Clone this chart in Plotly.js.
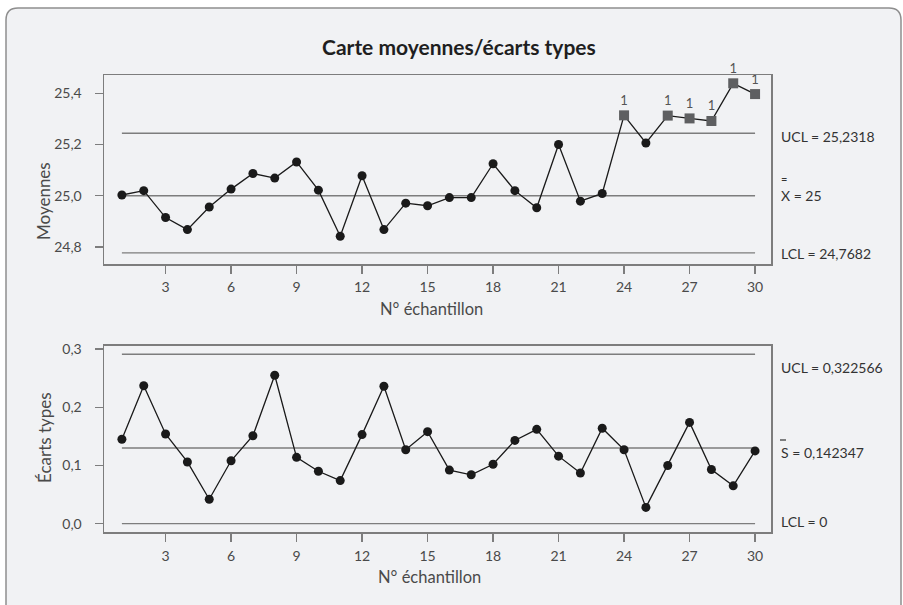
<!DOCTYPE html>
<html>
<head>
<meta charset="utf-8">
<script src="https://cdn.plot.ly/plotly-3.0.1.min.js"></script>
<style>
html,body{margin:0;padding:0;background:#ffffff;}
#chart{width:903px;height:605px;}
</style>
</head>
<body>
<div id="chart"></div>
<script>
// ---- data ----
var samples = [1,2,3,4,5,6,7,8,9,10,11,12,13,14,15,16,17,18,19,20,21,22,23,24,25,26,27,28,29,30];
var means = [25.003,25.020,24.915,24.868,24.956,25.026,25.087,25.069,25.132,25.022,
             24.842,25.078,24.868,24.971,24.961,24.993,24.993,25.125,25.020,24.953,
             25.200,24.979,25.009,25.314,25.206,25.313,25.302,25.292,25.439,25.397];
var stdevs = [0.145,0.237,0.154,0.106,0.042,0.108,0.151,0.255,0.114,0.090,
              0.074,0.153,0.236,0.127,0.158,0.092,0.084,0.102,0.143,0.162,
              0.116,0.087,0.164,0.127,0.028,0.100,0.174,0.093,0.065,0.125];
var flagged = [24,26,27,28,29,30];          // samples failing test 1
var flagText = "1";
var meanLimits = [25.244, 25.0, 24.777];     // UCL, centre, LCL lines as drawn
var sdLimits = [0.291, 0.130, 0.0];
var xTicks = [3,6,9,12,15,18,21,24,27,30];
var meanTicks = [24.8,25.0,25.2,25.4];
var sdTicks = [0.0,0.1,0.2,0.3];
var meanLabels = ["UCL = 25,2318", "X = 25", "LCL = 24,7682"];
var sdLabels = ["UCL = 0,322566", "S = 0,142347", "LCL = 0"];
var titleText = "Carte moyennes/écarts types";
var xTitle = "N° échantillon";
var meanTitle = "Moyennes";
var sdTitle = "Écarts types";

// ---- build ----
var FONT = "Lato, 'Open Sans', sans-serif";
var TXT = '#4a4a4a';
var isFlag = function(s){ return flagged.indexOf(s) >= 0; };
var traces = [];
function limitLines(vals, xa, ya){
  vals.forEach(function(v){
    traces.push({x:[samples[0], samples[samples.length-1]], y:[v,v], xaxis:xa, yaxis:ya,
      mode:'lines', line:{color:'#7d7d7d', width:1.3}, hoverinfo:'skip', showlegend:false});
  });
}
limitLines(meanLimits,'x','y');
limitLines(sdLimits,'x2','y2');

// means chart
traces.push({x:samples, y:means, xaxis:'x', yaxis:'y', mode:'lines',
  line:{color:'#1a1a1a', width:1.3}, showlegend:false, hoverinfo:'skip'});
traces.push({x:samples.filter(function(s){return !isFlag(s);}),
  y:means.filter(function(v,i){return !isFlag(samples[i]);}),
  xaxis:'x', yaxis:'y', mode:'markers', marker:{color:'#1a1a1a', size:9, symbol:'circle'},
  showlegend:false, hoverinfo:'skip'});
traces.push({x:samples.filter(isFlag),
  y:means.filter(function(v,i){return isFlag(samples[i]);}),
  text:flagged.map(function(){return flagText;}),
  xaxis:'x', yaxis:'y', mode:'markers+text', textposition:'top center', cliponaxis:false,
  textfont:{family:FONT, size:13, color:'#555555'},
  marker:{color:'#5e5f61', size:10, symbol:'square'},
  showlegend:false, hoverinfo:'skip'});

// sd chart
traces.push({x:samples, y:stdevs, xaxis:'x2', yaxis:'y2', mode:'lines+markers',
  line:{color:'#1a1a1a', width:1.3}, marker:{color:'#1a1a1a', size:9},
  showlegend:false, hoverinfo:'skip'});

var xDom = [104/903, 771/903];
function xaxis(anchor){
  return {domain:xDom, anchor:anchor, range:[0.18,30.73], tickvals:xTicks,
    ticks:'outside', ticklen:8, tickwidth:1.3, tickcolor:'#7d7d7d', ticklabelstandoff:2,
    showline:true, mirror:true, linecolor:'#7d7d7d', linewidth:1.5,
    showgrid:false, zeroline:false, tickfont:{family:FONT, size:14, color:TXT}, fixedrange:true};
}
function yaxis(anchor, dom, range, tv){
  return {domain:dom, anchor:anchor, range:range, tickvals:tv, tickformat:'.1f',
    ticks:'outside', ticklen:8, tickwidth:1.3, tickcolor:'#7d7d7d', ticklabelstandoff:10,
    showline:true, mirror:true, linecolor:'#7d7d7d', linewidth:1.5,
    showgrid:false, zeroline:false, tickfont:{family:FONT, size:14, color:TXT}, fixedrange:true};
}

var W=903, H=605, r=12;
var x0=6/W, x1=901/W, yt=1-8/H, yb=-0.05;
var panelPath = 'M '+x0+','+yb+' L '+x0+','+(yt-r/H)+' Q '+x0+','+yt+' '+(x0+r/W)+','+yt+
  ' L '+(x1-r/W)+','+yt+' Q '+x1+','+yt+' '+x1+','+(yt-r/H)+' L '+x1+','+yb;

function lab(text, yref, y, size){
  return {text:text, xref:'paper', yref:yref, x:779/W, y:y, xanchor:'left', yanchor:'middle',
    showarrow:false, font:{family:FONT, size:size||14, color:'#333'}};
}

var annotations = [
  {text:'<b>'+titleText+'</b>', xref:'paper', yref:'paper', x:459/W, y:1-47/H,
    xanchor:'center', yanchor:'middle', showarrow:false, font:{family:FONT, size:21, color:'#1f1f1f'}},
  {text:meanTitle, xref:'paper', yref:'paper', x:44/W, y:1-201/H, textangle:-90,
    xanchor:'center', yanchor:'middle', showarrow:false, font:{family:FONT, size:17, color:TXT}},
  {text:sdTitle, xref:'paper', yref:'paper', x:44/W, y:1-438/H, textangle:-90,
    xanchor:'center', yanchor:'middle', showarrow:false, font:{family:FONT, size:17, color:TXT}},
  {text:xTitle, xref:'paper', yref:'paper', x:431/W, y:1-309/H,
    xanchor:'center', yanchor:'middle', showarrow:false, font:{family:FONT, size:16.5, color:TXT}},
  {text:xTitle, xref:'paper', yref:'paper', x:429/W, y:1-577/H,
    xanchor:'center', yanchor:'middle', showarrow:false, font:{family:FONT, size:16.5, color:TXT}},
  lab(meanLabels[0],'y',25.2305),
  lab('=','y',25.068,11),
  lab(meanLabels[1],'y',25.0027),
  lab(meanLabels[2],'y',24.775),
  lab(sdLabels[0],'y2',0.2675),
  lab(sdLabels[1],'y2',0.1215),
  lab(sdLabels[2],'y2',0.0034)
];

var layout = {
  width:W, height:H, margin:{l:0,r:0,t:0,b:0},
  paper_bgcolor:'#ffffff', plot_bgcolor:'#ffffff',
  separators:', ',
  showlegend:false,
  xaxis:xaxis('y'),
  yaxis:yaxis('x',[1-264/H, 1-75/H],[24.7336,25.4715],meanTicks),
  xaxis2:xaxis('y2'),
  yaxis2:yaxis('x2',[1-532.3/H, 1-345.7/H],[-0.0148,0.3057],sdTicks),
  shapes:[
    {type:'path', xref:'paper', yref:'paper', path:panelPath, layer:'below',
      fillcolor:'#f1f2f4', line:{color:'#8e8e8e', width:1.5}},
    // bar over the S of the centre-line label
    {type:'line', xref:'paper', yref:'paper', x0:780/W, x1:786/W, y0:1-440/H, y1:1-440/H,
      line:{color:'#333', width:1.2}}
  ],
  annotations:annotations
};

Plotly.newPlot('chart', traces, layout, {displayModeBar:false, staticPlot:true});
</script>
</body>
</html>
